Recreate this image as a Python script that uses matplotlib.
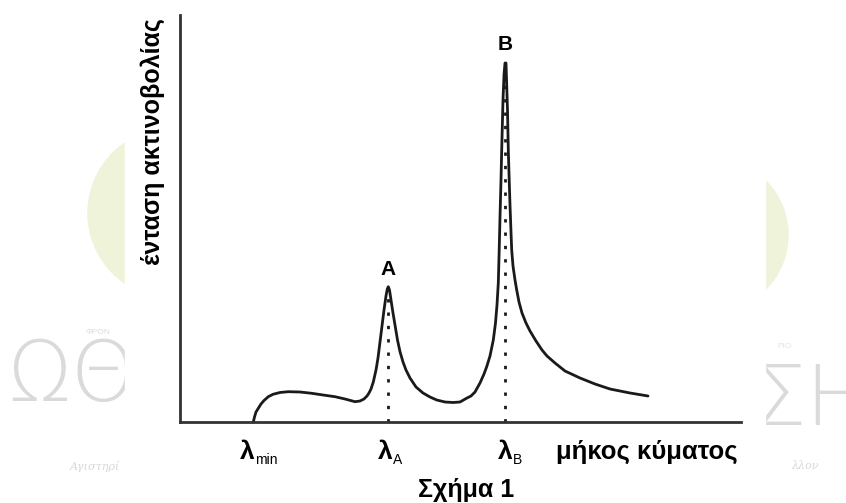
import matplotlib
matplotlib.use("Agg")
import matplotlib.pyplot as plt
from matplotlib.patches import Circle, Rectangle

plt.rcParams['font.family'] = ['Liberation Sans', 'DejaVu Sans']

# wavelength (arbitrary units) and intensity
mikos = [73.3, 74.5, 76, 78.3, 81, 84, 88.3, 93, 100, 108.3, 120, 131.7, 143, 155,
         165, 175, 180, 184, 187, 189, 191, 193.3, 196, 198, 200, 202, 204, 206,
         207.3, 208.3, 209.5, 211, 213, 215, 217.5, 220, 223, 226, 230, 236, 243,
         250, 256.7, 265, 273, 280, 287, 291, 295, 300, 304, 306.7, 310, 313.3,
         315.5, 317, 318.3, 319.2, 320, 321, 321.7, 323, 324, 325, 326, 327.5,
         328.3, 329.2, 330, 331, 331.7, 333, 335, 336.7, 339, 342, 346, 350, 356,
         362, 367, 375, 385, 400, 415, 430, 450, 468]
entasi = [0, 5, 10, 13.7, 18, 21.5, 25.3, 27.7, 29.5, 30.3, 30, 28.7, 27, 25.3,
          23, 20.3, 21, 23, 26, 29, 33, 40, 52, 64, 80, 96, 112, 126,
          133, 135.3, 132, 122, 109, 97, 82, 70.3, 60, 52, 44, 35, 29,
          25, 22, 20, 19.5, 20, 24, 26, 30, 39, 48, 55.3, 66, 82,
          99, 117, 139, 172, 205, 242, 272, 322, 347, 359, 359, 312,
          272, 242, 217, 190, 172, 156, 142, 132, 120, 109, 99, 91, 81,
          72, 66, 59, 51, 44, 38, 33, 29, 26]

lambda_min = 73.3
lambda_A = 208.3
lambda_B = 325
korifi_A = 135.3
korifi_B = 359

W, H = 846, 503
fig = plt.figure(figsize=(W / 100, H / 100), dpi=100)

# watermark kommatia (piso apo to sxima)
bg = fig.add_axes([0, 0, 1, 1])
bg.set_xlim(0, W)
bg.set_ylim(H, 0)
bg.axis('off')
bg.add_patch(Circle((173, 213), 85, color='#eef3da', zorder=0))
bg.add_patch(Circle((711, 235), 77, color='#eef3da', zorder=0))
bg.text(72, 378, 'ΩΘ', fontsize=60, color='#dadada', family='DejaVu Sans',
        fontweight='light', ha='center', va='center', zorder=1)
bg.text(812, 402, 'ΣΗ', fontsize=60, color='#dadada', family='DejaVu Sans',
        fontweight='light', ha='center', va='center', zorder=1)
bg.text(98, 333, 'ΦΡΟΝ', fontsize=6, color='#dcdcdc', ha='center', va='center', zorder=1)
bg.text(785, 347, 'ΡΙΟ', fontsize=6, color='#e3e8cc', ha='center', va='center', zorder=1)
bg.text(95, 466, 'Αγιστηρί', fontsize=8, color='#d8d8d8', style='italic',
        family='DejaVu Serif', ha='center', va='center', zorder=1)
bg.text(805, 466, 'λλον', fontsize=8, color='#d8d8d8', style='italic',
        family='DejaVu Serif', ha='center', va='center', zorder=1)
bg.add_patch(Rectangle((125, 0), 640, H, color='white', zorder=2))

ax = fig.add_axes([180 / W, 81 / H, 561 / W, 407 / H])
ax.set_xlim(0, 561)
ax.set_ylim(0, 407)
ax.patch.set_alpha(0)

ax.plot(mikos, entasi, color='#1a1a1a', lw=2, solid_joinstyle='round',
        solid_capstyle='round', clip_on=False)
ax.plot([lambda_A, lambda_A], [0, korifi_A], color='#1a1a1a', lw=2,
        linestyle=(0, (1.2, 3.6)))
ax.plot([lambda_B, lambda_B], [0, korifi_B], color='#1a1a1a', lw=2,
        linestyle=(0, (1.2, 3.6)))

for s in ['top', 'right']:
    ax.spines[s].set_visible(False)
for s in ['left', 'bottom']:
    ax.spines[s].set_linewidth(2)
    ax.spines[s].set_color('#333333')
ax.set_xticks([])
ax.set_yticks([])

ax.text(lambda_A, korifi_A + 17, 'A', fontsize=15, fontweight='bold',
        ha='center', va='center')
ax.text(lambda_B, korifi_B + 19, 'B', fontsize=15, fontweight='bold',
        ha='center', va='center')

# etiketes katw apo ton axona
def lamda_label(x, sub):
    ax.text(x, -30, 'λ', fontsize=19, fontweight='bold', ha='center', va='center')
    ax.text(x + 8, -38, sub, fontsize=10, ha='left', va='center')

lamda_label(lambda_min - 6, 'min')
lamda_label(lambda_A - 3, 'A')
lamda_label(lambda_B, 'B')

ax.text(376, -30, 'μήκος κύματος', fontsize=18.5, fontweight='bold',
        ha='left', va='center')
fig.text(466 / W, 1 - 490 / H, 'Σχήμα 1', fontsize=18, fontweight='bold',
         ha='center', va='center')
fig.text(153 / W, 1 - 141.5 / H, 'ένταση ακτινοβολίας', fontsize=18,
         fontweight='bold', rotation=90, ha='center', va='center')

fig.savefig('out.png', dpi=100)
